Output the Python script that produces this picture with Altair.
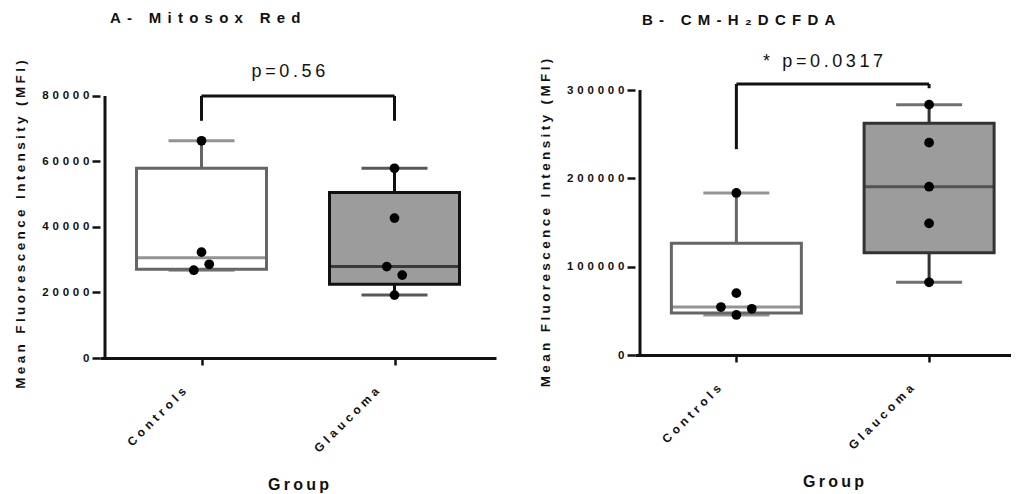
import altair as alt
import pandas as pd

FONT = "Liberation Sans"


def spaced(s, sep):
    return sep.join(list(s))


groups = ["Controls", "Glaucoma"]
group_pos = [0.5, 1.5]

# ---------------- Panel A : Mitosox Red ----------------
a_title = "A- Mitosox Red"
a_ctrl_pts = [66300, 32300, 28600, 26800]
a_ctrl_jit = [0.0, 0.0, 0.04, -0.04]
a_glau_pts = [57900, 42700, 27900, 25300, 19200]
a_glau_jit = [0.0, 0.0, -0.04, 0.04, 0.0]
a_lo = [26800, 19200]
a_q1 = [27100, 22500]
a_med = [30600, 27900]
a_q3 = [57900, 50500]
a_hi = [66300, 57900]
a_ticks = [0, 20000, 40000, 60000, 80000]
a_axis_max = 80000
a_scale_max = 81800
a_br_top = 80000
a_br_left_bottom = 72400
a_br_right_bottom = 72400
a_ptext = "p=0.56"
a_ptext_y = 87300
a_colors = ["#666666", "#111111"]

# ---------------- Panel B : CM-H2DCFDA ----------------
b_title = "B- CM-H\u2082DCFDA"
b_ctrl_pts = [183400, 70000, 54300, 52300, 45300]
b_ctrl_jit = [0.0, 0.0, -0.08, 0.08, 0.0]
b_glau_pts = [283400, 240400, 190500, 149000, 82300]
b_glau_jit = [0.0, 0.0, 0.0, 0.0, 0.0]
b_lo = [45300, 82300]
b_q1 = [47500, 115800]
b_med = [54300, 190500]
b_q3 = [126400, 262300]
b_hi = [183400, 283400]
b_ticks = [0, 100000, 200000, 300000]
b_axis_max = 300000
b_scale_max = 300000
b_br_top = 306800
b_br_left_bottom = 233000
b_br_right_bottom = 302000
b_ptext = "* p=0.0317"
b_ptext_y = 331700
b_colors = ["#666666", "#333333"]

box_fill = ["#ffffff", "#9c9c9c"]
y_title = "Mean Fluorescence Intensity (MFI)"
x_title = "Group"

PX_PER_UNIT = 198  # horizontal pixels per category step


def panel(title, ctrl_pts, ctrl_jit, glau_pts, glau_jit, lo, q1, med, q3, hi,
          ticks, axis_max, scale_max, br_top, br_lb, br_rb, ptext, ptext_y, colors,
          width, height, title_offset, title_dx):
    stats = pd.DataFrame({
        "g": groups, "x": group_pos, "lo": lo, "q1": q1, "med": med,
        "q3": q3, "hi": hi, "col": colors, "fill": box_fill,
    })
    pts = pd.DataFrame({
        "x": [group_pos[0] + j for j in ctrl_jit] + [group_pos[1] + j for j in glau_jit],
        "v": ctrl_pts + glau_pts,
    })
    label_expr = (f"datum.value < 1 ? '{spaced(groups[0], chr(0x2004))}' : "
                  f"'{spaced(groups[1], chr(0x2004))}'")
    xax = alt.Axis(values=group_pos, labelExpr=label_expr, labelAngle=-45,
                   labelAlign="right", labelBaseline="middle", labelPadding=24,
                   labelOffset=-18, labelFontSize=12,
                   tickSize=7, title=spaced(x_title, "\u2009"), titlePadding=22,
                   titleFontSize=16, titleX=PX_PER_UNIT, titleAnchor="middle")
    yax = alt.Axis(values=ticks, format="d", domain=False,
                   labelExpr="join(split(datum.label, ''), '\u2004')",
                   labelFontSize=11.5, tickSize=8, labelPadding=3,
                   title=spaced(y_title, "\u2005"), titlePadding=14,
                   titleFontSize=13.5)
    xs = alt.Scale(domain=[0, width / PX_PER_UNIT], nice=False, zero=False)
    ys = alt.Scale(domain=[0, scale_max], nice=False)

    base = alt.Chart(stats)
    X = alt.X("x:Q", scale=xs, axis=xax)
    col = alt.Color("col:N", scale=None)

    whisk_hi = base.mark_rule(strokeWidth=3).encode(
        x=X, y=alt.Y("q3:Q", scale=ys, axis=yax), y2="hi:Q", color=col)
    whisk_lo = base.mark_rule(strokeWidth=3).encode(
        x=X, y=alt.Y("lo:Q", scale=ys), y2="q1:Q", color=col)
    box = base.mark_bar(size=130, strokeWidth=3).encode(
        x=X, y=alt.Y("q1:Q", scale=ys), y2="q3:Q",
        fill=alt.Fill("fill:N", scale=None), stroke=alt.Stroke("col:N", scale=None))
    med_t = base.mark_tick(orient="horizontal", size=130, thickness=3).encode(
        x=X, y=alt.Y("med:Q", scale=ys), color=col)
    cap_hi = base.mark_tick(orient="horizontal", size=66, thickness=3).encode(
        x=X, y=alt.Y("hi:Q", scale=ys), color=col)
    cap_lo = base.mark_tick(orient="horizontal", size=66, thickness=3).encode(
        x=X, y=alt.Y("lo:Q", scale=ys), color=col)
    dots = alt.Chart(pts).mark_circle(size=95, color="black", opacity=1).encode(
        x=alt.X("x:Q", scale=xs), y=alt.Y("v:Q", scale=ys))

    br = pd.DataFrame({"x0": [0.0], "x1": [group_pos[0]], "x2": [group_pos[1]],
                       "top": [br_top], "lb": [br_lb], "rb": [br_rb],
                       "a0": [0], "a1": [axis_max],
                       "tx": [0.95], "ty": [ptext_y],
                       "t": [spaced(ptext, "\u2009")]})
    bb = alt.Chart(br)
    y_axis_line = bb.mark_rule(strokeWidth=3, color="#111111").encode(
        x=alt.X("x0:Q", scale=xs), y=alt.Y("a0:Q", scale=ys), y2="a1:Q")
    br_h = bb.mark_rule(strokeWidth=3, color="#111111").encode(
        x=alt.X("x1:Q", scale=xs), x2="x2:Q", y=alt.Y("top:Q", scale=ys))
    br_l = bb.mark_rule(strokeWidth=3, color="#111111").encode(
        x=alt.X("x1:Q", scale=xs), y=alt.Y("lb:Q", scale=ys), y2="top:Q")
    br_r = bb.mark_rule(strokeWidth=3, color="#111111").encode(
        x=alt.X("x2:Q", scale=xs), y=alt.Y("rb:Q", scale=ys), y2="top:Q")
    txt = bb.mark_text(font=FONT, fontSize=18, color="#111111", baseline="middle").encode(
        x=alt.X("tx:Q", scale=xs), y=alt.Y("ty:Q", scale=ys), text="t:N")

    return alt.layer(whisk_hi, whisk_lo, box, med_t, cap_hi, cap_lo, dots,
                     y_axis_line, br_h, br_l, br_r, txt).properties(
        width=width, height=height,
        title=alt.TitleParams(spaced(title, "\u2004\u200a"), anchor="start", frame="group",
                              offset=title_offset, dx=title_dx, font=FONT, fontSize=15,
                              fontWeight="bold", color="#111111"))


pa = panel(a_title, a_ctrl_pts, a_ctrl_jit, a_glau_pts, a_glau_jit, a_lo, a_q1, a_med,
           a_q3, a_hi, a_ticks, a_axis_max, a_scale_max, a_br_top, a_br_left_bottom,
           a_br_right_bottom, a_ptext, a_ptext_y, a_colors, 396, 268, 34, 10)
pb = panel(b_title, b_ctrl_pts, b_ctrl_jit, b_glau_pts, b_glau_jit, b_lo, b_q1, b_med,
           b_q3, b_hi, b_ticks, b_axis_max, b_scale_max, b_br_top, b_br_left_bottom,
           b_br_right_bottom, b_ptext, b_ptext_y, b_colors, 376, 265, 25, 7)

chart = alt.hconcat(pa, pb, spacing=42).properties(
    padding={"left": 5, "top": 2, "right": 0, "bottom": 0}
).configure_view(stroke=None).configure_axis(
    grid=False, domainColor="#111111", domainWidth=3, tickColor="#111111",
    tickWidth=2.5, labelFont=FONT, labelFontWeight="bold",
    labelColor="#111111", titleFont=FONT, titleFontWeight="bold",
    titleColor="#111111"
)

chart.save("out.html", embed_options={"renderer": "svg", "actions": False})
